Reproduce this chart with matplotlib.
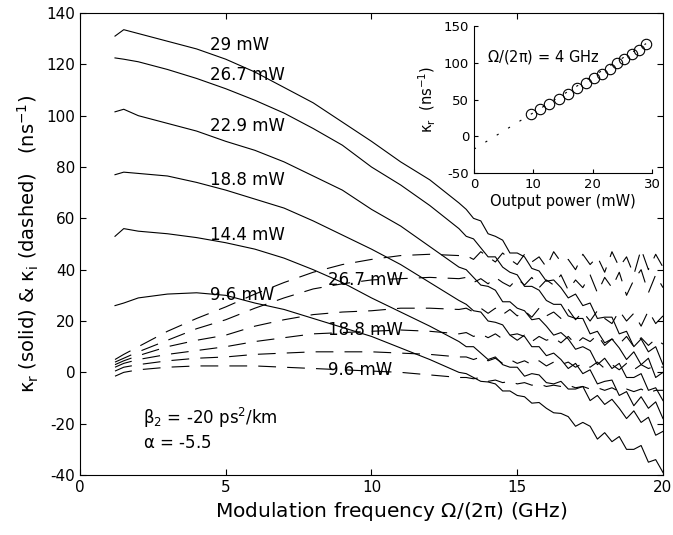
import matplotlib
matplotlib.use('Agg')
import matplotlib.pyplot as plt

plt.rcParams['font.family'] = ['DejaVu Sans']
plt.rcParams['mathtext.fontset'] = 'custom'
plt.rcParams['mathtext.rm'] = 'DejaVu Sans'
plt.rcParams['mathtext.it'] = 'DejaVu Sans'
plt.rcParams['axes.unicode_minus'] = False

# modulation frequency (GHz): coarse part, then the noisy high-frequency part
freq = [1.2, 1.5, 2, 3, 4, 5, 6, 7, 8, 9, 10, 11, 12, 13] + \
       [13.25, 13.5, 13.75, 14, 14.25, 14.5, 14.75, 15, 15.25, 15.5, 15.75, 16, 16.25, 16.5,
        16.75, 17, 17.25, 17.5, 17.75, 18, 18.25, 18.5, 18.75, 19, 19.25, 19.5, 19.75, 20]

# kappa_r (solid), ns^-1
kr_29 = [131, 133.5, 132, 129, 126, 122, 117, 111, 105, 97.5, 90, 82, 75, 66] + \
        [63.5, 60, 59, 54, 53, 51.5, 46.5, 46.5, 45, 40.5, 39.5, 35.5, 36, 33,
         29, 30.5, 26, 27, 21, 21.5, 21.5, 15, 16, 10, 13, 8, 10, 3]
kr_267 = [122.5, 122, 121, 118, 114.5, 110.5, 106, 101, 95, 88.5, 80, 73, 65, 56] + \
         [53, 52, 48.5, 45, 45, 41, 39, 38, 33.5, 33.5, 32, 28, 26.5, 26.5,
          22, 21, 21, 15, 16, 11.5, 13, 9.5, 5, 8, 3, 5.5, -2, 0]
kr_229 = [101.5, 102.5, 100, 97, 94, 90, 86.5, 82, 76.5, 71, 63.5, 57, 49, 41] + \
         [40, 37, 34, 33.5, 32, 27.5, 27.5, 25, 24, 20.5, 21, 18, 14.5, 15.5,
          13, 9, 10, 8.5, 3, 5.5, 1.5, 3.5, -2, -2, -0.5, -7, -6, -11]
kr_188 = [77, 78, 77.5, 76.5, 74, 71, 67.5, 64, 59, 53.5, 48, 42, 35, 28] + \
         [26.5, 24, 23.5, 20, 19.5, 18.5, 14.5, 15, 14, 10, 10, 6.5, 7.5, 5,
          1.5, 3.5, -0.5, 1, -4.5, -3.5, -3, -9, -7.5, -13, -9.5, -14, -11.5, -18]
kr_144 = [53, 56, 55, 54, 52.5, 50.5, 48, 44.5, 40, 35, 29, 23.5, 18, 12] + \
         [10, 10, 7.5, 5, 6, 3, 2, 2, -1.5, -0.5, -1, -4, -4.5, -3.5,
          -6.5, -6.5, -5.5, -11, -9, -12.5, -10.5, -14, -18, -15, -19.5, -17.5, -24.5, -23]
kr_96 = [26, 27, 29, 30.5, 31, 30, 27, 24.5, 21, 17.5, 14, 9.5, 5, 0] + \
        [-0.5, -2, -3.5, -3.75, -4.5, -7.25, -7.25, -9, -9.5, -12, -11.75, -14, -15.75, -16,
         -17.25, -21, -19.5, -21, -26, -23.5, -27, -25, -30, -30, -28.5, -35, -34, -39]

# kappa_i (dashed), ns^-1
ki_29 = [5, 7, 10, 16, 21, 25.5, 30.5, 35, 39, 42, 44, 45.5, 46, 45.5] + \
        [45.5, 44, 47, 45, 43, 46.5, 44, 42, 46, 43, 45, 41, 47, 43,
         44, 40, 46, 42, 45, 39, 47, 41, 45, 38, 48, 40, 46, 41]
ki_267 = [4, 5.5, 8, 12.5, 17, 20.5, 25, 29, 32.5, 34.5, 36, 36.5, 37, 36.5] + \
         [37, 35, 36.5, 34.5, 37, 35, 33.5, 36.5, 34, 37, 33, 36, 34, 38,
          32, 36, 33, 38, 31, 37, 33, 39, 30, 36, 40, 31, 38, 33]
ki_229 = [3, 4.5, 6.5, 10, 12.5, 14.5, 18, 20.5, 22.5, 23.5, 24, 25, 25, 24.5] + \
         [25, 23.5, 25, 23, 25, 22.5, 24.5, 22, 24, 21.5, 25, 22, 23.5, 21,
          24.5, 20.5, 23.5, 20, 24, 21, 19, 24, 20, 23, 18, 24, 19, 22]
ki_188 = [2, 3.5, 5, 7, 8.5, 10, 12, 13.5, 15, 15.5, 16, 16.5, 16, 15] + \
         [15.5, 14, 15, 13.5, 15, 13, 14.5, 12.5, 14.5, 12, 14, 12.5, 13.5, 11.5,
          14, 11, 13.5, 12, 14.5, 10.5, 13, 11, 14, 10, 13.5, 10.5, 13, 11]
ki_144 = [0.5, 2, 3, 4.5, 5.5, 6, 7, 7.5, 8, 8, 8, 7.5, 7, 6] + \
         [6, 5, 6, 4.5, 5.5, 3.5, 5, 3.5, 4.5, 3, 4.5, 2.5, 4, 3,
          4, 2, 3.5, 2, 4, 1.5, 3, 1, 3.5, 1, 3, 1.5, 2.5, 2]
ki_96 = [-1.5, 0, 1, 2, 2.5, 2.5, 2.5, 2, 1.5, 1, 0.5, 0, -1, -2] + \
        [-2, -2.5, -2, -3.5, -3, -4, -3.5, -4.5, -4, -5, -4.5, -5.5, -5, -5.5,
         -5, -6, -5.5, -6.5, -6, -7, -6, -7.5, -6.5, -7.5, -6.5, -8, -7, -7]

solid_labels = ['29 mW', '26.7 mW', '22.9 mW', '18.8 mW', '14.4 mW', '9.6 mW']
solid_label_y = [127.5, 116, 96, 75, 53.5, 30]
dashed_labels = ['26.7 mW', '18.8 mW', '9.6 mW']
dashed_label_y = [36, 16.5, 1]

# inset: kappa_r at 4 GHz vs output power
power = [9.6, 11.2, 12.7, 14.4, 15.8, 17.3, 18.8, 20.2, 21.6, 22.9, 24.1, 25.3, 26.7, 27.8, 29.0]
kr_4ghz = [30, 37, 44, 51, 57, 65, 72, 79, 85, 92, 99, 105, 112, 118, 126]
fit_x = [0, 29]
fit_y = [-17.5, 126]

fig = plt.figure(figsize=(6.73, 5.35), dpi=100)
ax = fig.add_axes([0.1189, 0.1121, 0.8662, 0.8636])

for k in [kr_29, kr_267, kr_229, kr_188, kr_144, kr_96]:
    ax.plot(freq, k, color='black', lw=0.8)
for k in [ki_29, ki_267, ki_229, ki_188, ki_144, ki_96]:
    ax.plot(freq, k, color='black', lw=0.8, dashes=(16, 10))

for lab, y in zip(solid_labels, solid_label_y):
    ax.text(4.45, y, lab, fontsize=12, va='center', ha='left')
for lab, y in zip(dashed_labels, dashed_label_y):
    ax.text(8.5, y, lab, fontsize=12, va='center', ha='left')

ax.text(2.15, -17.8, r'$\beta_2$ = -20 ps$^2$/km', fontsize=12, va='center')
ax.text(2.15, -27.4, r'$\alpha$ = -5.5', fontsize=12, va='center')

ax.set_xlim(0, 20)
ax.set_ylim(-40, 140)
ax.set_xticks([0, 5, 10, 15, 20])
ax.set_yticks(range(-40, 141, 20))
ax.tick_params(direction='in', top=True, right=True, labelsize=11, length=4)
ax.set_xlabel(r'Modulation frequency $\Omega$/(2$\pi$) (GHz)', fontsize=14.5)
ax.xaxis.set_label_coords(0.533, -0.055)
ax.set_ylabel(r'$\kappa_r$ (solid) & $\kappa_i$ (dashed)   (ns$^{-1}$)', fontsize=14)

# inset
axin = fig.add_axes([0.7043, 0.6766, 0.2645, 0.2748])
axin.plot(fit_x, fit_y, color='black', lw=0.8, ls=(0, (2, 10)))
axin.plot(power, kr_4ghz, 'o', mfc='none', mec='black', ms=7.5, mew=0.8)
axin.set_xlim(0, 30)
axin.set_ylim(-50, 150)
axin.set_xticks([0, 10, 20, 30])
axin.set_yticks([-50, 0, 50, 100, 150])
axin.spines['top'].set_visible(False)
axin.spines['right'].set_visible(False)
axin.tick_params(direction='in', labelsize=9.5, length=3)
axin.set_xlabel('Output power (mW)', fontsize=10.5, labelpad=2)
axin.set_ylabel(r'$\kappa_r$  (ns$^{-1}$)', fontsize=10.5)
axin.text(2.2, 108, r'$\Omega$/(2$\pi$) = 4 GHz', fontsize=10.5, va='center')

fig.savefig('out.png', dpi=100)
